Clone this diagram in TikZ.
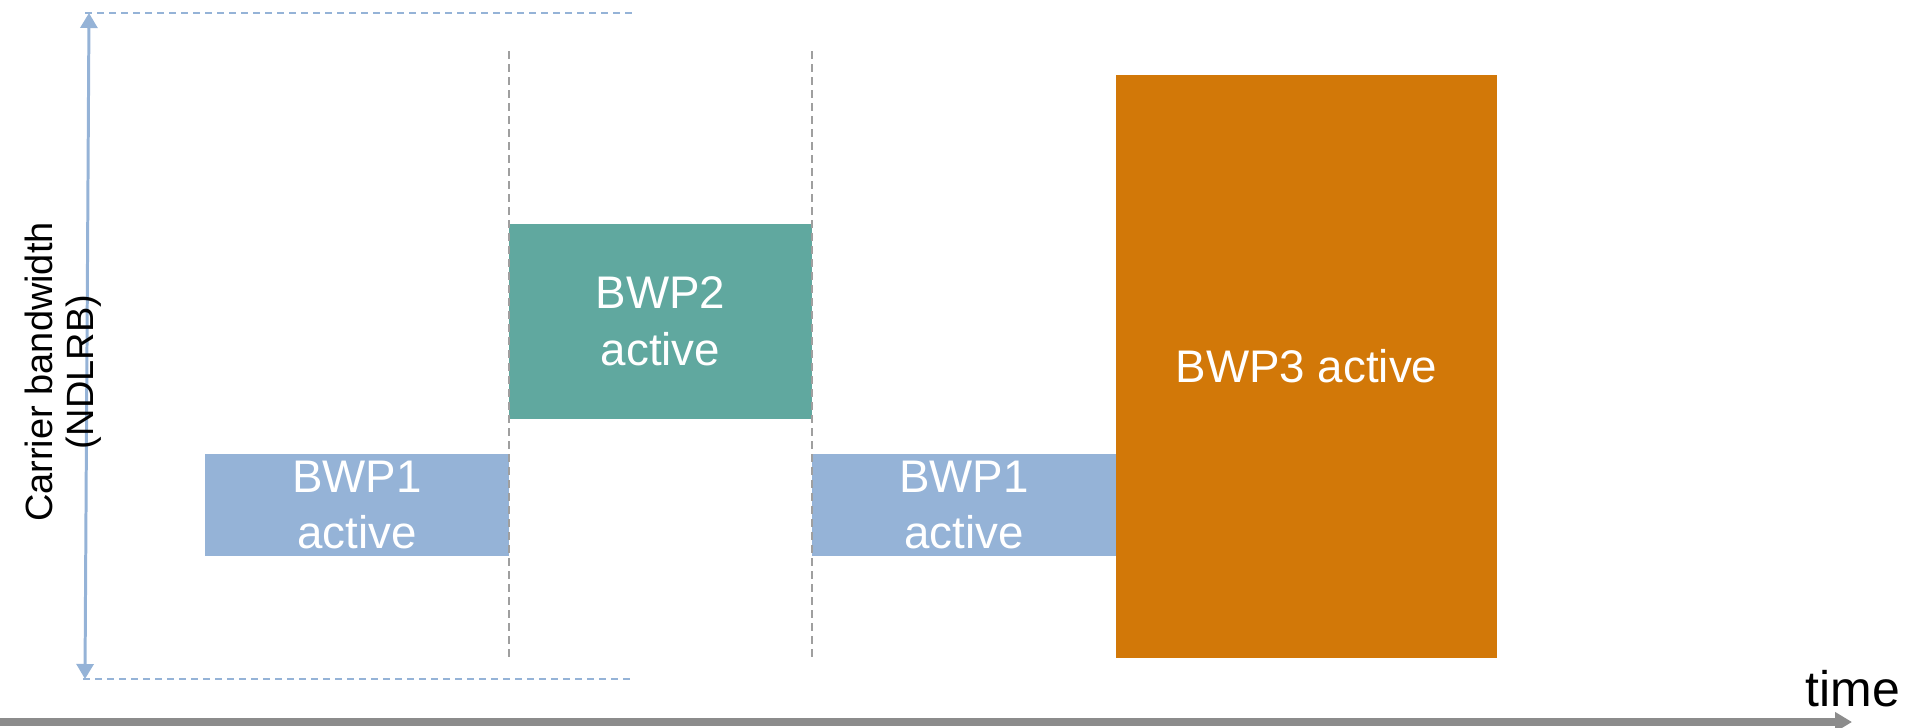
\documentclass[tikz,border=0pt]{standalone}
\usepackage{fontspec}
\setmainfont{Liberation Sans}
\usetikzlibrary{arrows.meta}
\definecolor{bwpblue}{HTML}{95B3D7}
\definecolor{bwpteal}{HTML}{60A89F}
\definecolor{bwporange}{HTML}{D27808}
\definecolor{axisgray}{HTML}{8C8C8C}
\begin{document}
\begin{tikzpicture}[
        x=0.01cm, y=-0.01cm,
        time line/.style={line width=2pt, axisgray, -{Triangle[length=0.17cm, width=0.19cm]}},
        band line/.style={line width=0.85pt, bwpblue, {Triangle[length=0.15cm, width=0.17cm]}-{Triangle[length=0.15cm, width=0.17cm]}},
        limit line/.style={line width=0.57pt, bwpblue, dash pattern=on 0.07cm off 0.05cm},
        switch line/.style={line width=0.57pt, gray!75, dash pattern=on 0.08cm off 0.05cm},
        bwp/.style={rectangle, inner sep=0pt, text=white, align=center,
            font=\fontsize{13}{16.2}\selectfont},
        every node/.style={color=black}
        ]
        \useasboundingbox (0,0) rectangle (1912,727);
        % Boxes
        \node(bwp1a)[bwp, fill=bwpblue, text=white, minimum width=3.04cm, minimum height=1.02cm]
            at (357,505) {BWP1\\active};
        \node(bwp2)[bwp, fill=bwpteal, text=white, minimum width=3.03cm, minimum height=1.95cm]
            at (660.5,321.5) {BWP2\\active};
        \node(bwp1b)[bwp, fill=bwpblue, text=white, minimum width=3.04cm, minimum height=1.02cm]
            at (964,505) {BWP1\\active};
        \node(bwp3)[bwp, fill=bwporange, text=white, minimum width=3.81cm, minimum height=5.83cm]
            at (1306.5,366.5) {BWP3 active};
        % Switch lines
        \draw[switch line] (509,51) coordinate(s1top) -- (509,657) coordinate(s1bot);
        \draw[switch line] (812,51) coordinate(s2top) -- (812,657) coordinate(s2bot);
        % Carrier bandwidth
        \coordinate (bwtop) at (89,13);
        \coordinate (bwbot) at (85,679);
        \draw[limit line] (85,13) -- (634,13);
        \draw[limit line] (83,679) -- (634,679);
        \draw[band line] (bwbot) -- (bwtop);
        \node(bwlabel)[rotate=90, align=center, font=\fontsize{10.8}{11.6}\selectfont]
            at (63,372) {Carrier bandwidth\\(NDLRB)};
        % Time axis
        \coordinate (t0) at (0,722);
        \coordinate (t1) at (1852,722);
        \draw[time line] (t0) -- (t1);
        \node(timelabel)[font=\fontsize{14.2}{17}\selectfont] at (1853,689) {time};
    \end{tikzpicture}
\end{document}
